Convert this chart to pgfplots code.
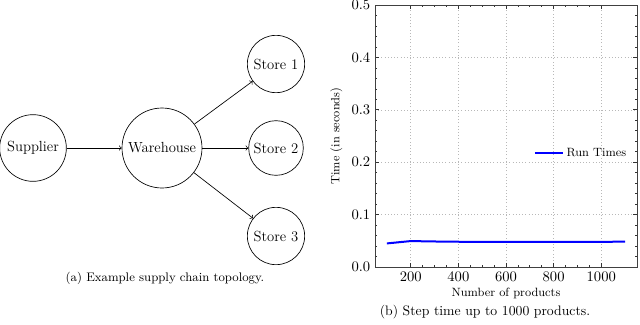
\documentclass[border=0pt]{standalone}
\usepackage{pgfplots}
\pgfplotsset{compat=1.18}
\begin{document}
\begin{tikzpicture}
\path[use as bounding box] (0,0) rectangle (480pt,-243.75pt);
% (a) diagram inside a hidden axis (pixel-like coordinates)
\begin{axis}[at={(0pt,0pt)}, anchor=north west, scale only axis,
  width=240pt, height=243.75pt, xmin=0, xmax=320, ymin=0, ymax=325,
  y dir=reverse, hide axis, clip=false]
  \begin{scope}[every node/.style={draw, circle, inner sep=0pt, line width=0.5pt, font=\fontsize{11}{13}\selectfont}]
  \node[minimum size=50pt] (S) at (axis cs:33,148) {Supplier};
  \node[minimum size=60pt] (W) at (axis cs:162,148) {Warehouse};
  \node[minimum size=43pt] (A) at (axis cs:276,64) {Store 1};
  \node[minimum size=41pt] (B) at (axis cs:276,148) {Store 2};
  \node[minimum size=43pt] (C) at (axis cs:276,236) {Store 3};
  \end{scope}
  \draw[->, line width=0.5pt] (S) -- (W);
  \draw[->, line width=0.5pt] (W) -- (A);
  \draw[->, line width=0.5pt] (W) -- (B);
  \draw[->, line width=0.5pt] (W) -- (C);
  \node[font=\fontsize{9.3}{11}\selectfont] at (axis cs:165,278) {(a) Example supply chain topology.};
\end{axis}
% (b) run times
\begin{axis}[at={(281.25pt,-200.25pt)}, anchor=south west, scale only axis,
  width=196.5pt, height=196.5pt,
  xmin=50, xmax=1150, ymin=0, ymax=0.5,
  xtick={200,400,600,800,1000}, minor x tick num=3,
  ytick={0,0.1,0.2,0.3,0.4,0.5}, minor y tick num=4,
  tick align=inside,
  major tick length=3pt, minor tick length=1.6pt,
  every tick/.style={black!80, line width=0.5pt},
  grid=major, grid style={dotted, black!28, line width=0.4pt},
  axis line style={black!75, line width=0.7pt},
  scaled y ticks=false,
  x tick label style={/pgf/number format/.cd, set thousands separator={}},
  y tick label style={/pgf/number format/.cd, fixed, fixed zerofill, precision=1},
  ticklabel style={font=\fontsize{10.5}{12}\selectfont},
  label style={font=\fontsize{9}{11}\selectfont},
  xlabel={Number of products}, ylabel={Time (in seconds)},
  xlabel style={yshift=2pt},
  legend image code/.code={\draw[#1] (0pt,0pt) -- (21pt,0pt);},
  legend style={at={(0.985,0.435)}, anchor=east, draw=none, fill=none, font=\fontsize{9}{11}\selectfont},
  legend cell align=left,
]
\addplot[blue, line width=1.5pt] coordinates {
(100,0.0450) (200,0.0495) (300,0.0487) (400,0.0482) (500,0.0480) (600,0.0480)
(700,0.0480) (800,0.0480) (900,0.0480) (1000,0.0481) (1100,0.0483)
};
\addlegendentry{Run Times}
\end{axis}
\node[font=\fontsize{10.3}{12}\selectfont] at (363.75pt,-234pt) {(b) Step time up to 1000 products.};
\end{tikzpicture}
\end{document}
